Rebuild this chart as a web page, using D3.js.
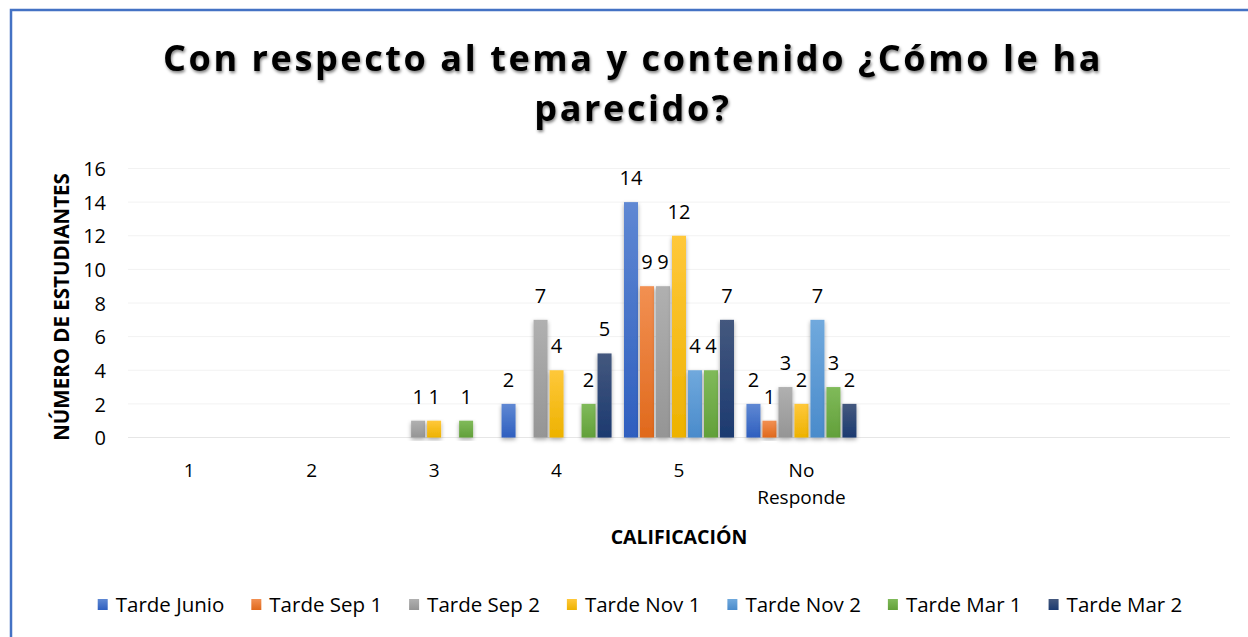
<!DOCTYPE html>
<html>
<head>
<meta charset="utf-8">
<script src="https://cdn.jsdelivr.net/npm/d3@7"></script>
<style>
  html, body { margin: 0; padding: 0; background: #fff; }
  svg { display: block; }
  text { font-family: "Open Sans", "Noto Sans", sans-serif; fill: #000; }
</style>
</head>
<body>
<svg id="chart" width="1248" height="637"></svg>
<script>
const categories = ["1", "2", "3", "4", "5", "No Responde", "", "", ""];
const seriesNames = ["Tarde Junio", "Tarde Sep 1", "Tarde Sep 2", "Tarde Nov 1", "Tarde Nov 2", "Tarde Mar 1", "Tarde Mar 2"];
const tardeJunio = [null, null, null, 2, 14, 2, null, null, null];
const tardeSep1  = [null, null, null, null, 9, 1, null, null, null];
const tardeSep2  = [null, null, 1, 7, 9, 3, null, null, null];
const tardeNov1  = [null, null, 1, 4, 12, 2, null, null, null];
const tardeNov2  = [null, null, null, null, 4, 7, null, null, null];
const tardeMar1  = [null, null, 1, 2, 4, 3, null, null, null];
const tardeMar2  = [null, null, null, 5, 7, 2, null, null, null];
const yTicks = [0, 2, 4, 6, 8, 10, 12, 14, 16];
const titleLines = ["Con respecto al tema y contenido ¿Cómo le ha", "parecido?"];
const yTitle = "NÚMERO DE ESTUDIANTES";
const xTitle = "CALIFICACIÓN";

const seriesValues = [tardeJunio, tardeSep1, tardeSep2, tardeNov1, tardeNov2, tardeMar1, tardeMar2];
const lightColors = ["#5F88D3", "#F29052", "#B0B0B0", "#FFC83A", "#70A9DD", "#80BA5A", "#44587E"];
const darkColors = ["#2F5FBF", "#E0691C", "#959595", "#EDB200", "#4A8BCB", "#62A03A", "#1C3A70"];

const svg = d3.select("#chart");
const defs = svg.append("defs");

const shadow = defs.append("filter").attr("id", "shadow")
  .attr("x", "-30%").attr("y", "-10%").attr("width", "160%").attr("height", "130%");
shadow.append("feDropShadow").attr("dx", 0).attr("dy", 2).attr("stdDeviation", 2)
  .attr("flood-color", "#000").attr("flood-opacity", 0.35);

const tshadow = defs.append("filter").attr("id", "tshadow")
  .attr("x", "-5%").attr("y", "-30%").attr("width", "110%").attr("height", "160%");
tshadow.append("feDropShadow").attr("dx", 1).attr("dy", 2).attr("stdDeviation", 1.6)
  .attr("flood-color", "#000").attr("flood-opacity", 0.5);

seriesNames.forEach((s, i) => {
  const g = defs.append("linearGradient").attr("id", "grad" + i)
    .attr("x1", 0).attr("y1", 0).attr("x2", 0).attr("y2", 1);
  g.append("stop").attr("offset", "0%").attr("stop-color", lightColors[i]);
  g.append("stop").attr("offset", "100%").attr("stop-color", darkColors[i]);
});

// border
svg.append("path")
  .attr("d", "M11,637 L11,10 L1248,10")
  .attr("fill", "none").attr("stroke", "#4472C4").attr("stroke-width", 2.5);

// title
svg.append("g").selectAll("text").data(titleLines).join("text")
  .attr("x", 633).attr("y", (d, i) => 71 + i * 50)
  .attr("text-anchor", "middle")
  .attr("font-size", 36).attr("font-weight", "bold")
  .attr("letter-spacing", 2.6)
  .attr("filter", "url(#tshadow)")
  .text(d => d);

const x0 = d3.scaleBand().domain(d3.range(categories.length)).range([128, 1230]).padding(0);
const y = d3.scaleLinear().domain([0, 16]).range([437.5, 168.5]);
const inset = x0.bandwidth() * 0.043;
const x1 = d3.scaleBand().domain(d3.range(seriesNames.length))
  .range([inset, x0.bandwidth() - inset]).paddingInner(0.125).paddingOuter(0.06);

// gridlines
svg.append("g").selectAll("line").data(yTicks).join("line")
  .attr("x1", 128).attr("x2", 1230)
  .attr("y1", d => y(d)).attr("y2", d => y(d))
  .attr("stroke", d => d === 0 ? "#E6E6E6" : "#F2F2F2").attr("stroke-width", 1);

// y axis
const yAxis = d3.axisLeft(y).tickValues(yTicks).tickSize(0).tickPadding(0);
const yg = svg.append("g").attr("transform", "translate(106,0)").call(yAxis);
yg.select(".domain").remove();
yg.selectAll("text").attr("font-size", 20).attr("font-family", "'Open Sans', sans-serif").attr("fill", "#000")
  .attr("dy", "0.36em");

// x axis labels
const xAxis = d3.axisBottom(x0).tickSize(0).tickPadding(0).tickFormat(i => categories[i]);
const xg = svg.append("g").attr("transform", "translate(0,470)").call(xAxis);
xg.select(".domain").remove();
xg.selectAll("text").attr("font-size", 19).attr("font-family", "'Open Sans', sans-serif").attr("fill", "#000")
  .attr("dy", "0.36em")
  .each(function(i) {
    const t = d3.select(this);
    const words = categories[i].split(" ");
    if (words.length > 1) {
      t.text(null);
      words.forEach((w, k) => {
        t.append("tspan").attr("x", 0).attr("dy", k === 0 ? "0.36em" : "1.45em").text(w);
      });
    }
  });

// bars
const groups = svg.append("g").selectAll("g").data(seriesNames).join("g")
  .attr("fill", (d, i) => "url(#grad" + i + ")");

groups.each(function(name, si) {
  const data = seriesValues[si].map((v, ci) => ({ v, ci })).filter(d => d.v !== null && d.v !== undefined);
  const g = d3.select(this);
  g.selectAll("rect").data(data).join("rect")
    .attr("x", d => x0(d.ci) + x1(si))
    .attr("width", x1.bandwidth())
    .attr("y", d => y(d.v))
    .attr("height", d => y(0) - y(d.v))
    .attr("filter", "url(#shadow)");
  g.selectAll("text").data(data).join("text")
    .attr("x", d => x0(d.ci) + x1(si) + x1.bandwidth() / 2)
    .attr("y", d => y(d.v) - 17)
    .attr("text-anchor", "middle")
    .attr("font-size", 20)
    .attr("fill", "#000")
    .text(d => d.v);
});

// axis titles
svg.append("text")
  .attr("transform", "translate(69,307) rotate(-90)")
  .attr("text-anchor", "middle")
  .attr("font-size", 20.5).attr("font-weight", "bold")
  .text(yTitle);

svg.append("text")
  .attr("x", 679).attr("y", 544)
  .attr("text-anchor", "middle")
  .attr("font-size", 19.5).attr("font-weight", "bold")
  .text(xTitle);

// legend
const legend = svg.append("g");
const items = legend.selectAll("g").data(seriesNames).join("g");
items.append("rect").attr("width", 10).attr("height", 11).attr("y", -6)
  .attr("fill", (d, i) => "url(#grad" + i + ")");
items.append("text").attr("x", 18).attr("y", 0).attr("dy", "0.36em")
  .attr("font-size", 20.5).text(d => d);
const gap = 27;
const widths = items.nodes().map(n => n.getBBox().width);
const total = d3.sum(widths) + gap * (widths.length - 1);
const start = 640 - total / 2;
items.attr("transform", (d, i) => {
  const tx = start + d3.sum(widths.slice(0, i)) + gap * i;
  return "translate(" + tx + ",605)";
});
</script>
</body>
</html>
